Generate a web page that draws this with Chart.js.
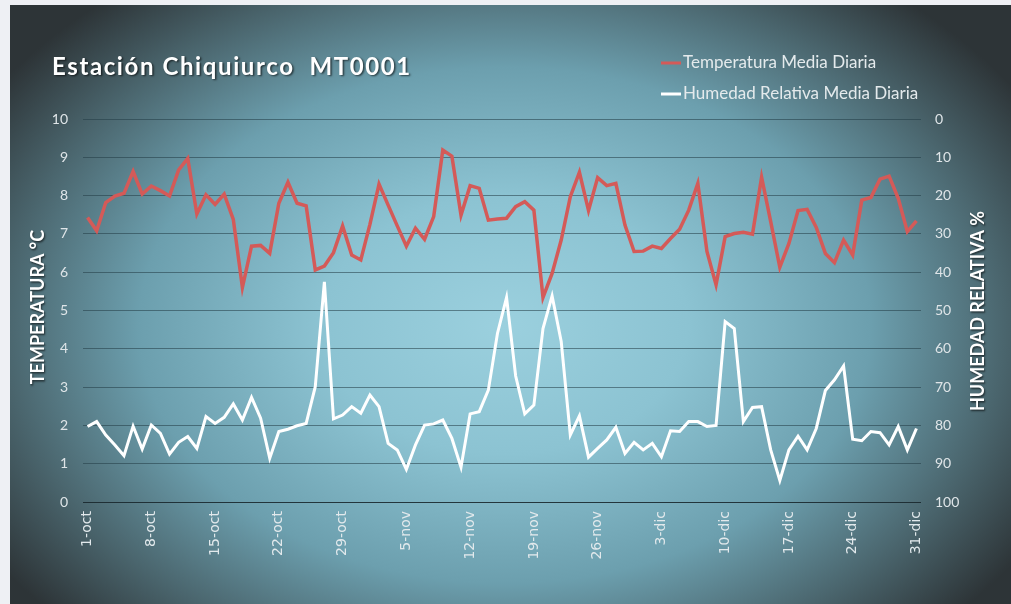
<!DOCTYPE html>
<html>
<head>
<meta charset="utf-8">
<script src="https://cdn.jsdelivr.net/npm/chart.js@4.4.1/dist/chart.umd.min.js"></script>
<style>
  html, body { margin: 0; padding: 0; background: #eef0f4; }
  #wrap { position: absolute; left: 10px; top: 5px; width: 1001px; height: 599px; }
</style>
</head>
<body>
<div id="wrap"><canvas id="chart" width="1001" height="599"></canvas></div>
<script>
// Datos diarios 1-oct a 31-dic
const months = ['oct', 'nov', 'dic'];
const monthDays = [31, 30, 31];

const temperatura = [
  7.43, 7.08, 7.82, 7.99, 8.06, 8.63, 8.04, 8.25, 8.13, 7.99,
  8.67, 8.97, 7.52, 8.02, 7.77, 8.04, 7.38, 5.60, 6.68, 6.70,
  6.49, 7.80, 8.35, 7.80, 7.73, 6.06, 6.16, 6.51, 7.21, 6.45,
  6.32, 7.25, 8.30, 7.75, 7.21, 6.68, 7.15, 6.86, 7.45, 9.19,
  9.03, 7.49, 8.26, 8.19, 7.36, 7.39, 7.41, 7.71, 7.84, 7.62,
  5.34, 5.97, 6.84, 7.97, 8.61, 7.61, 8.47, 8.26, 8.32, 7.23,
  6.54, 6.55, 6.68, 6.62, 6.88, 7.12, 7.62, 8.32, 6.54, 5.67,
  6.93, 7.01, 7.04, 6.99, 8.48, 7.32, 6.13, 6.75, 7.61, 7.64,
  7.17, 6.49, 6.25, 6.84, 6.45, 7.88, 7.95, 8.43, 8.51, 7.93,
  7.06, 7.34
];

const humedad = [
  80.3, 79.0, 82.5, 85.1, 87.9, 80.2, 86.2, 79.9, 82.1, 87.5,
  84.4, 82.9, 86.0, 77.7, 79.5, 77.9, 74.4, 78.6, 72.7, 78.1,
  88.6, 81.6, 81.0, 80.1, 79.5, 69.9, 42.5, 78.3, 77.3, 75.1,
  76.8, 72.1, 75.1, 84.7, 86.4, 91.5, 85.1, 79.9, 79.6, 78.6,
  83.4, 90.9, 77.0, 76.4, 70.8, 56.0, 46.6, 67.1, 77.0, 74.7,
  54.7, 46.2, 58.1, 82.5, 77.5, 88.3, 86.0, 83.8, 80.5, 87.3,
  84.4, 86.4, 84.7, 88.2, 81.4, 81.6, 79.0, 79.0, 80.3, 80.0,
  52.9, 54.7, 79.0, 75.3, 75.1, 86.4, 94.4, 86.4, 82.8, 86.4,
  80.8, 70.9, 68.1, 64.5, 83.6, 84.0, 81.6, 81.9, 85.1, 80.3,
  86.4, 80.8
];

const fechas = [];
months.forEach((m, k) => {
  for (let d = 1; d <= monthDays[k]; d++) fechas.push(d + '-' + m);
});

const titulo = 'Estación Chiquiurco  MT0001';
const tituloIzq = 'TEMPERATURA °C';
const tituloDer = 'HUMEDAD RELATIVA %';
const colorTemp = '#d45a58';
const colorHum = '#ffffff';

// fondo con degradado radial y textos (título, leyenda, títulos de ejes)
const decor = {
  id: 'decor',
  beforeDraw(chart) {
    const ctx = chart.ctx;
    const w = chart.width, h = chart.height;
    const cx = 495, cy = 320, rx = 610, ry = 430;
    ctx.save();
    ctx.fillStyle = '#2b3133';
    ctx.fillRect(0, 0, w, h);
    ctx.translate(cx, cy);
    ctx.scale(1, ry / rx);
    const g = ctx.createRadialGradient(0, 0, 0, 0, 0, rx);
    g.addColorStop(0, '#9bd0de');
    g.addColorStop(0.3, '#8cc3d2');
    g.addColorStop(0.6, '#6c9fae');
    g.addColorStop(0.82, '#4a656d');
    g.addColorStop(1, '#2d3437');
    ctx.fillStyle = g;
    ctx.fillRect(-cx, -cy * rx / ry, w, h * rx / ry);
    ctx.restore();
  },
  afterDraw(chart) {
    const ctx = chart.ctx;
    ctx.save();
    // título
    ctx.font = 'bold 24px Lato';
    ctx.letterSpacing = '1.6px';
    ctx.textBaseline = 'middle';
    ctx.textAlign = 'left';
    ctx.shadowColor = 'rgba(0,0,0,0.6)';
    ctx.shadowOffsetX = 1.5;
    ctx.shadowOffsetY = 1.5;
    ctx.shadowBlur = 2;
    ctx.fillStyle = '#ffffff';
    ctx.fillText(titulo, 42, 62);
    ctx.letterSpacing = '0px';

    // títulos de ejes
    ctx.font = 'bold 18px Lato';
    ctx.textAlign = 'center';
    ctx.save();
    ctx.translate(28, 302);
    ctx.rotate(-Math.PI / 2);
    ctx.fillText(tituloIzq, 0, 0);
    ctx.restore();
    ctx.save();
    ctx.translate(968, 306);
    ctx.rotate(-Math.PI / 2);
    ctx.fillText(tituloDer, 0, 0);
    ctx.restore();
    ctx.shadowColor = 'transparent';

    // leyenda
    const items = chart.data.datasets;
    ctx.font = '17px Lato';
    ctx.textAlign = 'left';
    items.forEach((ds, k) => {
      const y = 58 + k * 31;
      ctx.strokeStyle = ds.borderColor;
      ctx.lineWidth = 3;
      ctx.beginPath();
      ctx.moveTo(651, y);
      ctx.lineTo(671, y);
      ctx.stroke();
      ctx.fillStyle = '#e4eaec';
      ctx.fillText(ds.label, 673, y);
    });
    ctx.restore();
  }
};

new Chart(document.getElementById('chart'), {
  type: 'line',
  data: {
    labels: fechas,
    datasets: [{
      label: 'Temperatura Media Diaria',
      data: temperatura,
      yAxisID: 'y',
      borderColor: colorTemp,
      borderWidth: 3.5,
      pointRadius: 0,
      tension: 0
    }, {
      label: 'Humedad Relativa Media Diaria',
      data: humedad,
      yAxisID: 'y1',
      borderColor: colorHum,
      borderWidth: 3,
      pointRadius: 0,
      tension: 0
    }]
  },
  options: {
    responsive: false,
    animation: false,
    layout: { padding: { top: 114, left: 0, right: 0, bottom: 0 } },
    plugins: {
      legend: { display: false },
      title: { display: false },
      tooltip: { enabled: false }
    },
    scales: {
      x: {
        offset: true,
        afterFit(scale) { scale.height = 102; },
        grid: { display: false, drawTicks: false },
        border: { display: false },
        ticks: {
          autoSkip: false,
          maxRotation: 90,
          minRotation: 90,
          padding: 9,
          color: '#e2e9ec',
          font: { family: 'DejaVu Sans', size: 14 },
          callback(v, i) { return i % 7 === 0 ? fechas[i] : ''; }
        }
      },
      y: {
        position: 'left',
        min: 0,
        max: 10,
        afterFit(scale) { scale.width = 73; },
        ticks: {
          stepSize: 1,
          padding: 15,
          color: '#dfe5e8',
          font: { family: 'Lato', size: 14 }
        },
        grid: {
          drawTicks: false,
          lineWidth: 1,
          color: (c) => c.tick.value === 0 ? 'rgba(25,40,45,0.9)' : 'rgba(35,60,70,0.55)'
        },
        border: { display: false }
      },
      y1: {
        position: 'right',
        reverse: true,
        min: 0,
        max: 100,
        afterFit(scale) { scale.width = 90; },
        ticks: {
          stepSize: 10,
          padding: 14,
          color: '#dfe5e8',
          font: { family: 'Lato', size: 14 }
        },
        grid: { display: false, drawTicks: false },
        border: { display: false }
      }
    }
  },
  plugins: [decor]
});
</script>
</body>
</html>
